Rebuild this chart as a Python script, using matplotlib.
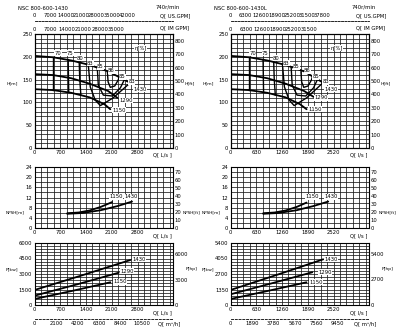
import matplotlib
matplotlib.use('Agg')
import matplotlib.pyplot as plt
import numpy as np

plt.rcParams['font.family'] = ['Liberation Sans Narrow', 'DejaVu Sans']

# ---------------- data ----------------
speed_label = "740r/min"
diameters = ["1430", "1290", "1150"]
eff_labels = ["70", "75", "80", "83", "85", "86", "85", "83"]

# ---- left panel: NSC 800-600-1430 ----
L_title = "NSC 800-600-1430"
L_q_ticks = [0, 700, 1400, 2100, 2800]
L_us_ticks = [0, 7000, 14000, 21000, 28000, 35000, 42000]
L_im_ticks = [0, 7000, 14000, 21000, 28000, 35000]
L_m3h_ticks = [0, 2100, 4200, 6300, 8400, 10500]
L_p_ticks = [0, 1500, 3000, 4500, 6000]
L_hp_ticks = [0, 3000, 6000]

L_head_q = {"1430": [0, 500, 1000, 1500, 2000, 2600],
            "1290": [0, 500, 1000, 1500, 2000, 2250],
            "1150": [0, 500, 1000, 1500, 1900, 2060]}
L_head_h = {"1430": [202, 199, 192, 182, 168, 143],
            "1290": [162, 160, 153, 141, 125, 110],
            "1150": [129, 127, 121, 111, 96, 85]}
L_eff_q = [[513, 513], [915, 930], [1215, 1230, 1260],
           [1460, 1515, 1650, 1790, 2140, 2600],
           [1706, 1734, 1870, 2116, 2334, 2443],
           [1980, 2000, 2060, 2180, 2280, 2310]]
L_eff_h = [[199, 127], [194, 122], [188, 150, 116],
           [184, 134, 105, 93, 110, 143],
           [176, 138, 116, 114, 132, 150],
           [167, 145, 133, 136, 150, 160]]
L_efflab_q = [642, 969, 1242, 1515, 1788, 2088, 2389, 2635]
L_efflab_h = [208, 208, 197, 186, 178, 169, 156, 145]
L_npsh_q = {"1150": [890, 1200, 1500, 1800, 2110],
            "1430": [890, 1300, 1800, 2250, 2650]}
L_npsh_v = {"1150": [5.8, 6.1, 6.9, 8.3, 10.2],
            "1430": [5.6, 5.9, 7.0, 8.6, 10.4]}
L_pow_q = {"1430": [0, 1300, 2607],
           "1290": [0, 1150, 2288],
           "1150": [0, 1030, 2061]}
L_pow_p = {"1430": [1450, 2880, 4355],
           "1290": [900, 1990, 3126],
           "1150": [580, 1370, 2197]}
L_headlab = {"1430": (2680, 128), "1290": (2300, 104), "1150": (2110, 83)}
L_npshlab = {"1150": (2040, 12.3), "1430": (2450, 12.3)}
L_powlab = {"1430": (2660, 4450), "1290": (2330, 3290), "1150": (2140, 2230)}

# ---- right panel: NSC 800-600-1430L ----
R_title = "NSC 800-600-1430L"
R_q_ticks = [0, 630, 1260, 1890, 2520]
R_us_ticks = [0, 6300, 12600, 18900, 25200, 31500, 37800]
R_im_ticks = [0, 6300, 12600, 18900, 25200, 31500]
R_m3h_ticks = [0, 1890, 3780, 5670, 7560, 9450]
R_p_ticks = [0, 1350, 2700, 4050, 5400]
R_hp_ticks = [0, 2700, 5400]

R_head_q = {"1430": [0, 450, 900, 1350, 1800, 2270],
            "1290": [0, 450, 900, 1350, 1800, 2035],
            "1150": [0, 450, 900, 1350, 1700, 1860]}
R_head_h = {"1430": [202, 199, 192, 182, 168, 143],
            "1290": [162, 160, 153, 141, 125, 112],
            "1150": [129, 127, 121, 111, 96, 85]}
R_eff_q = [[446, 446], [796, 809], [1057, 1070, 1096],
           [1270, 1318, 1436, 1557, 1862, 2262],
           [1484, 1509, 1627, 1841, 2031, 2125],
           [1723, 1740, 1792, 1897, 1984, 2010]]
R_eff_h = L_eff_h
R_efflab_q = [546, 849, 1119, 1365, 1611, 1880, 2080, 2330]
R_efflab_h = [208, 208, 197, 186, 178, 169, 156, 145]
R_npsh_q = {"1150": [800, 1080, 1350, 1620, 1860],
            "1430": [800, 1170, 1620, 2020, 2390]}
R_npsh_v = {"1150": [5.8, 6.1, 6.9, 8.3, 10.0],
            "1430": [5.6, 5.9, 7.0, 8.6, 10.4]}
R_pow_q = {"1430": [0, 1130, 2268],
           "1290": [0, 1000, 2000],
           "1150": [0, 930, 1858]}
R_pow_p = {"1430": [1306, 2620, 3980],
           "1290": [930, 1880, 2850],
           "1150": [522, 1240, 1977]}
R_headlab = {"1430": (2300, 129), "1290": (2054, 110), "1150": (1906, 85)}
R_npshlab = {"1150": (1830, 12.3), "1430": (2300, 12.3)}
R_powlab = {"1430": (2300, 4006), "1290": (2152, 2874), "1150": (1931, 2003)}

# ---------------- layout ----------------
W, Hh = 396, 327
fig = plt.figure(figsize=(W / 100, Hh / 100), dpi=100)
fig.patch.set_facecolor('white')
FS = 3.8
GRID = dict(color='#1a1a1a', lw=0.55)
CURVE = dict(color='black', lw=1.3, solid_capstyle='round')
LABBOX = dict(facecolor='white', edgecolor='none', pad=0.2)


def add_ax(x0, yt, x1, yb):
    return fig.add_axes([x0 / W, 1 - yb / Hh, (x1 - x0) / W, (yb - yt) / Hh])


def style(ax, xlim, xstep, ylim, ystep, xticks, yticks):
    ax.set_xlim(*xlim)
    ax.set_ylim(*ylim)
    for x in np.arange(0, xlim[1] + 1e-6, xstep):
        ax.axvline(x, **GRID, zorder=1)
    for y in np.arange(0, ylim[1] + 1e-6, ystep):
        ax.axhline(y, **GRID, zorder=1)
    ax.set_xticks(xticks)
    ax.set_yticks(yticks)
    ax.tick_params(labelsize=FS, length=0, pad=1.5)
    for s in ax.spines.values():
        s.set_linewidth(0.7)


def panel(x0, x1, title, qmax, qstep, qticks, us_ticks, us_max, im_ticks, im_max,
          m3h_ticks, p_ticks, pmax, hp_ticks, hpmax,
          head_q, head_h, eff_q, eff_h, efflab_q, efflab_h,
          npsh_q, npsh_v, pow_q, pow_p, headlab, npshlab, powlab, qlabel):
    # titles
    fig.text((x0 - 16) / W, 1 - 8 / Hh, title, fontsize=FS, va='center', ha='left')
    fig.text((x1 - 17) / W, 1 - 7 / Hh, speed_label, fontsize=FS, va='center', ha='left')

    # US GPM axis (dashed line)
    axu = add_ax(x0, 21, x1, 22)
    axu.set_xlim(0, us_max)
    axu.set_xticks(us_ticks)
    axu.xaxis.tick_top()
    axu.set_yticks([])
    for k in ['bottom', 'left', 'right']:
        axu.spines[k].set_visible(False)
    axu.spines['top'].set_linestyle((0, (2.5, 1.5)))
    axu.spines['top'].set_linewidth(0.6)
    axu.tick_params(labelsize=FS, length=0, pad=2.5)
    axu.patch.set_alpha(0)
    fig.text((x1 - 12) / W, 1 - 15.5 / Hh, "Q[ US.GPM]", fontsize=FS, va='center')

    # Head
    ax = add_ax(x0, 34, x1, 148)
    style(ax, (0, qmax), qstep, (0, 250), 10, qticks, [0, 50, 100, 150, 200, 250])
    ax.text(qmax * 0.93, -9, qlabel, fontsize=FS, ha='center', va='top')
    for d in diameters:
        ax.plot(head_q[d], head_h[d], **CURVE, zorder=3)
        ax.text(*headlab[d], d, fontsize=FS, va='center', ha='left', bbox=LABBOX, zorder=4)
    for q, h in zip(eff_q, eff_h):
        ax.plot(q, h, color='black', lw=1.0, zorder=3)
    for q, h, t in zip(efflab_q, efflab_h, eff_labels):
        ax.text(q, h, t, fontsize=FS, ha='center', va='center', bbox=LABBOX, zorder=4)
    ax.text(qmax * 0.77, 219, "η[%]", fontsize=FS, ha='center', va='center', bbox=LABBOX, zorder=4)
    axr = ax.twinx()
    axr.set_ylim(0, 850)
    axr.set_yticks(range(0, 801, 100))
    axr.tick_params(labelsize=FS, length=0, pad=1.5)
    axt = ax.twiny()
    axt.set_xlim(0, im_max)
    axt.set_xticks(im_ticks)
    axt.tick_params(labelsize=FS, length=0, pad=1.5)
    fig.text((x1 - 12) / W, 1 - 28 / Hh, "Q[ IM GPM]", fontsize=FS, va='center')
    fig.text((x0 - 28) / W, 1 - 83 / Hh, "H[m]", fontsize=FS * 0.85, va='center')
    fig.text((x1 + 12) / W, 1 - 83 / Hh, "H[ft]", fontsize=FS * 0.85, va='center')

    # NPSH
    ax = add_ax(x0, 167, x1, 228)
    style(ax, (0, qmax), qstep, (0, 24), 2, qticks, [0, 4, 8, 12, 16, 20, 24])
    ax.text(qmax * 0.93, -1.9, qlabel, fontsize=FS, ha='center', va='top')
    for d in ["1150", "1430"]:
        ax.plot(npsh_q[d], npsh_v[d], **CURVE, zorder=3)
        ax.text(*npshlab[d], d, fontsize=FS, va='center', ha='left', bbox=LABBOX, zorder=4)
    axr = ax.twinx()
    axr.set_ylim(0, 76)
    axr.set_yticks(range(0, 71, 10))
    axr.tick_params(labelsize=FS, length=0, pad=1.5)
    fig.text((x0 - 29) / W, 1 - 212 / Hh, "NPSH[m]", fontsize=FS * 0.8, va='center')
    fig.text((x1 + 10) / W, 1 - 212 / Hh, "NPSH[ft]", fontsize=FS * 0.8, va='center')

    # Power
    ax = add_ax(x0, 243, x1, 305)
    style(ax, (0, qmax), qstep, (0, pmax), pmax / 20, qticks, p_ticks)
    ax.text(qmax * 0.93, -pmax * 0.08, qlabel, fontsize=FS, ha='center', va='top')
    for d in diameters:
        ax.plot(pow_q[d], pow_p[d], **CURVE, zorder=3)
        ax.text(*powlab[d], d, fontsize=FS, va='center', ha='left', bbox=LABBOX, zorder=4)
    axr = ax.twinx()
    axr.set_ylim(0, hpmax)
    axr.set_yticks(hp_ticks)
    axr.tick_params(labelsize=FS, length=0, pad=1.5)
    fig.text((x0 - 29) / W, 1 - 269 / Hh, "P[kw]", fontsize=FS * 0.85, va='center')
    fig.text((x1 + 13) / W, 1 - 269 / Hh, "P[hp]", fontsize=FS * 0.85, va='center')

    # m3/h axis
    axb = add_ax(x0, 318, x1, 319)
    axb.set_xlim(0, qmax * 3.6)
    axb.set_xticks(m3h_ticks)
    axb.set_yticks([])
    for k in ['top', 'left', 'right']:
        axb.spines[k].set_visible(False)
    axb.spines['bottom'].set_linestyle((0, (2.5, 2)))
    axb.spines['bottom'].set_linewidth(0.6)
    axb.tick_params(labelsize=FS, length=0, pad=1.2)
    axb.patch.set_alpha(0)
    fig.text((x1 - 14) / W, 1 - 323.5 / Hh, "Q[ m³/h]", fontsize=FS, va='center')


panel(34.5, 172.5, L_title, 3750, 175, L_q_ticks, L_us_ticks, 62300, L_im_ticks, 59300,
      L_m3h_ticks, L_p_ticks, 6000, L_hp_ticks, 7300,
      L_head_q, L_head_h, L_eff_q, L_eff_h, L_efflab_q, L_efflab_h,
      L_npsh_q, L_npsh_v, L_pow_q, L_pow_p, L_headlab, L_npshlab, L_powlab, "Q[ L/s ]")
panel(230.5, 368.5, R_title, 3375, 157.5, R_q_ticks, R_us_ticks, 56800, R_im_ticks, 55400,
      R_m3h_ticks, R_p_ticks, 5400, R_hp_ticks, 6560,
      R_head_q, R_head_h, R_eff_q, R_eff_h, R_efflab_q, R_efflab_h,
      R_npsh_q, R_npsh_v, R_pow_q, R_pow_p, R_headlab, R_npshlab, R_powlab, "Q[ l/s ]")

fig.savefig("out.png", dpi=100, facecolor='white')
